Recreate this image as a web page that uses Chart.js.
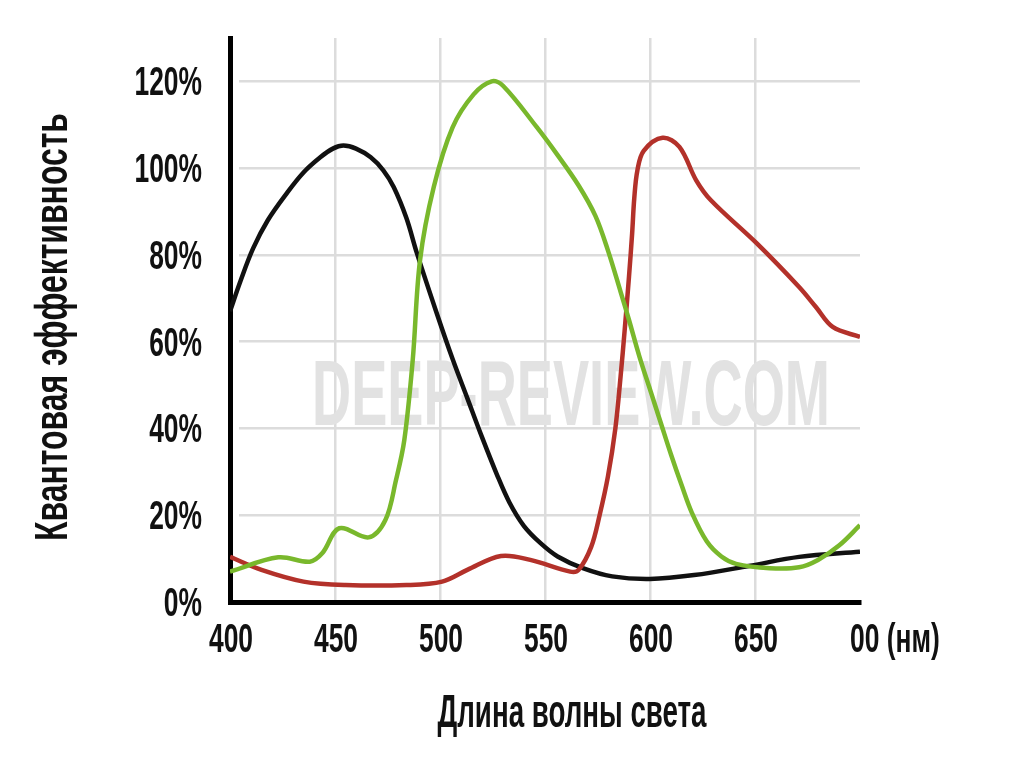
<!DOCTYPE html>
<html lang="ru">
<head>
<meta charset="utf-8">
<title>Квантовая эффективность</title>
<script src="https://cdn.jsdelivr.net/npm/chart.js@4.4.1/dist/chart.umd.min.js"></script>
<style>
  html, body { margin: 0; padding: 0; background: #fff; }
  canvas { display: block; }
</style>
</head>
<body>
<canvas id="qe" width="1024" height="762"></canvas>
<script>
// wavelength (nm) -> quantum efficiency (%)
const greenNm = [400, 423, 438, 444, 452, 466, 474, 479, 483, 487, 490.5, 497, 506, 516, 524.6, 530, 546, 556, 566, 574, 580, 586, 590, 595, 600, 605, 610, 615, 620, 627, 634, 641, 657, 671, 680, 690, 700];
const greenQE = [7, 10.3, 9.3, 11.3, 17, 14.9, 18.9, 28, 37.3, 55.7, 78.8, 95.6, 109.4, 117, 120, 119, 109.5, 103, 96, 89, 81, 71.5, 65, 56.5, 49, 41.5, 34, 27, 20.5, 14, 10.5, 8.8, 7.8, 8, 9.7, 13, 17.7];

const redNm = [400, 415, 435, 455, 484, 501, 513, 529, 543, 562, 566, 572, 576, 580, 583.5, 586, 588, 590, 591.5, 592.5, 594, 597, 606, 614, 622, 629, 651, 671, 679, 687, 700];
const redQE = [10.4, 7.4, 4.7, 3.9, 3.9, 4.7, 7.4, 10.6, 9.7, 7, 7.4, 12.7, 20, 29, 40, 52, 63, 75, 85, 93, 99.5, 104, 107, 104.9, 97.2, 92.6, 82.6, 72.6, 68, 63.4, 61.1];

const blackNm = [400, 405, 411, 418, 427, 435, 443, 449, 454, 460, 467, 473, 478, 484, 489, 498, 506, 513, 520, 527, 533, 540, 548, 556, 568, 582, 600, 621, 647, 671, 700];
const blackQE = [67, 74, 81.5, 88, 94.2, 99, 102.5, 104.5, 105.2, 104.5, 102.5, 99.5, 95.6, 88.5, 80.4, 67.2, 56, 47, 38, 29.5, 23, 17.5, 13.5, 10.5, 7.8, 5.9, 5.3, 6.2, 8.3, 10.4, 11.6];

const xTicks = [400, 450, 500, 550, 600, 650, 700];
const xTickLabels = ["400", "450", "500", "550", "600", "650", "00 (нм)"];
const yTicks = [0, 20, 40, 60, 80, 100, 120];
const yTickLabels = ["0%", "20%", "40%", "60%", "80%", "100%", "120%"];

const xTitle = "Длина волны света";
const yTitle = "Квантовая эффективность";
const watermark = "DEEP-REVIEW.COM";

const FONT = '"Liberation Sans", Arial, sans-serif';
const gridColor = "#dcdcdc";

// condensed text: draw bold text squeezed horizontally
function squeezed(ctx, text, x, y, size, sx, align, color, rot) {
  ctx.save();
  ctx.font = "bold " + size + "px " + FONT;
  ctx.fillStyle = color || "#111";
  ctx.textBaseline = "alphabetic";
  ctx.textAlign = "left";
  const w = ctx.measureText(text).width * sx;
  ctx.translate(x, y);
  if (rot) ctx.rotate(rot);
  const left = align === "right" ? -w : align === "center" ? -w / 2 : 0;
  ctx.translate(left, 0);
  ctx.scale(sx, 1);
  ctx.fillText(text, 0, 0);
  ctx.restore();
}

function fitScale(ctx, text, size, width) {
  ctx.save();
  ctx.font = "bold " + size + "px " + FONT;
  const s = width / ctx.measureText(text).width;
  ctx.restore();
  return s;
}

const textPlugin = {
  id: "texts",
  beforeDatasetsDraw(chart) {
    const ctx = chart.ctx;
    const a = chart.chartArea;
    // little gap between the y axis and the horizontal grid lines
    ctx.save();
    ctx.fillStyle = "#fff";
    ctx.fillRect(a.left + 3, a.top, 6, a.bottom - a.top - 3);
    ctx.restore();
    const s = fitScale(ctx, watermark, 92, 518);
    squeezed(ctx, watermark, 571, 425, 92, s, "center", "#e2e2e2");
  },
  afterDraw(chart) {
    const ctx = chart.ctx;
    const xs = chart.scales.x, ys = chart.scales.y;
    yTicks.forEach((v, i) => {
      squeezed(ctx, yTickLabels[i], 202, ys.getPixelForValue(v) + 14, 40, 0.66, "right");
    });
    xTicks.forEach((v, i) => {
      const px = xs.getPixelForValue(v);
      if (i === xTicks.length - 1) squeezed(ctx, xTickLabels[i], px - 10, 652, 40, 0.66, "left");
      else squeezed(ctx, xTickLabels[i], px + 1, 652, 40, 0.66, "center");
    });
    squeezed(ctx, xTitle, 572, 727, 46, fitScale(ctx, xTitle, 46, 269), "center");
    squeezed(ctx, yTitle, 67, 327, 46, fitScale(ctx, yTitle, 46, 428), "center", "#111", -Math.PI / 2);
  }
};

const pts = (xs, ys) => xs.map((x, i) => ({ x: x, y: ys[i] }));

new Chart(document.getElementById("qe"), {
  type: "line",
  data: {
    datasets: [
      { data: pts(greenNm, greenQE), borderColor: "#79b82c" },
      { data: pts(redNm, redQE), borderColor: "#b3312a" },
      { data: pts(blackNm, blackQE), borderColor: "#111111" }
    ]
  },
  options: {
    responsive: false,
    animation: false,
    devicePixelRatio: 1,
    layout: { padding: { left: 230, right: 164, top: 38, bottom: 160 } },
    plugins: { legend: { display: false }, tooltip: { enabled: false } },
    elements: {
      point: { radius: 0 },
      line: { borderWidth: 4.5, tension: 0.35, capBezierPoints: true, fill: false }
    },
    scales: {
      x: {
        type: "linear", min: 400, max: 700,
        ticks: { display: false, stepSize: 50 },
        grid: {
          color: c => (c.tick && c.tick.value > 400 && c.tick.value < 700) ? gridColor : "rgba(0,0,0,0)",
          lineWidth: 2.5, drawTicks: false
        },
        border: { color: "#000", width: 5 }
      },
      y: {
        min: 0, max: 130,
        afterBuildTicks: s => { s.ticks = s.ticks.filter(t => t.value <= 120); },
        ticks: { display: false, stepSize: 20 },
        grid: {
          color: c => (c.tick && c.tick.value > 0) ? gridColor : "rgba(0,0,0,0)",
          lineWidth: 2.5, drawTicks: false
        },
        border: { color: "#000", width: 5 }
      }
    }
  },
  plugins: [textPlugin]
});
</script>
</body>
</html>
